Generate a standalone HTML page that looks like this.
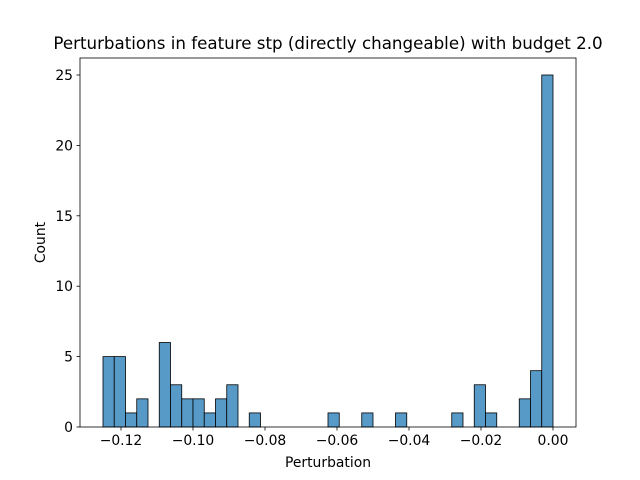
<!DOCTYPE html>
<html><head><meta charset="utf-8"><style>body{margin:0;background:#fff}svg{display:block;font-family:"DejaVu Sans","Liberation Sans",sans-serif}</style></head>
<body>
<svg id="chart" width="640" height="480" viewBox="0 0 640 480"></svg>
<script>
const binStart = -0.125;
const binWidth = 0.003125;
const counts = [5,5,1,2,0,6,3,2,2,1,2,3,0,1,0,0,0,0,0,0,1,0,0,1,0,0,1,0,0,0,0,1,0,3,1,0,0,2,4,25];
const xTicks = [-0.12,-0.10,-0.08,-0.06,-0.04,-0.02,0.00];
const xTickLabels = ["\u22120.12","\u22120.10","\u22120.08","\u22120.06","\u22120.04","\u22120.02","0.00"];
const yTicks = [0,5,10,15,20,25];

const L=80,R=576,T=58,B=427;
const xs = v => 553 + v*3600;
const ys = v => B - v*14.08;
const svg = document.getElementById('chart');
const NS='http://www.w3.org/2000/svg';
function mk(tag, attrs, text){const e=document.createElementNS(NS,tag);for(const k in attrs)e.setAttribute(k,attrs[k]);if(text!==undefined)e.textContent=text;svg.appendChild(e);return e;}

counts.forEach((c,i)=>{
  if(c===0) return;
  const x0=xs(binStart+i*binWidth), x1=xs(binStart+(i+1)*binWidth);
  const r=mk('rect',{x:x0,y:ys(c),width:x1-x0,height:ys(0)-ys(c),fill:'#5799c7',stroke:'#000','stroke-width':0.8});
  
  
});

const frame=mk('rect',{x:L,y:T,width:R-L,height:B-T,fill:'none',stroke:'#000','stroke-width':0.8});



xTicks.forEach((v,i)=>{
  const x=xs(v);
  mk('line',{x1:x,x2:x,y1:B,y2:B+3.5,stroke:'#000','stroke-width':0.8});
  const t=mk('text',{x:x,y:B+18,'font-size':13.9,'text-anchor':'middle'},xTickLabels[i]);
  
  
});
yTicks.forEach(v=>{
  const y=ys(v);
  mk('line',{x1:L-3.5,x2:L,y1:y,y2:y,stroke:'#000','stroke-width':0.8});
  const t=mk('text',{x:L-7,y:y+5,'font-size':13.9,'text-anchor':'end'},String(v));
  
  
});

const xt=mk('text',{x:(L+R)/2,y:467,'font-size':13.9,'text-anchor':'middle'},'Perturbation');


const yt=mk('text',{x:45,y:(T+B)/2,'font-size':13.9,'text-anchor':'middle',transform:'rotate(-90 45 '+((T+B)/2)+')'},'Count');


const tt=mk('text',{x:(L+R)/2,y:49,'font-size':16.7,'text-anchor':'middle'},'Perturbations in feature stp (directly changeable) with budget 2.0');


</script>
</body></html>
